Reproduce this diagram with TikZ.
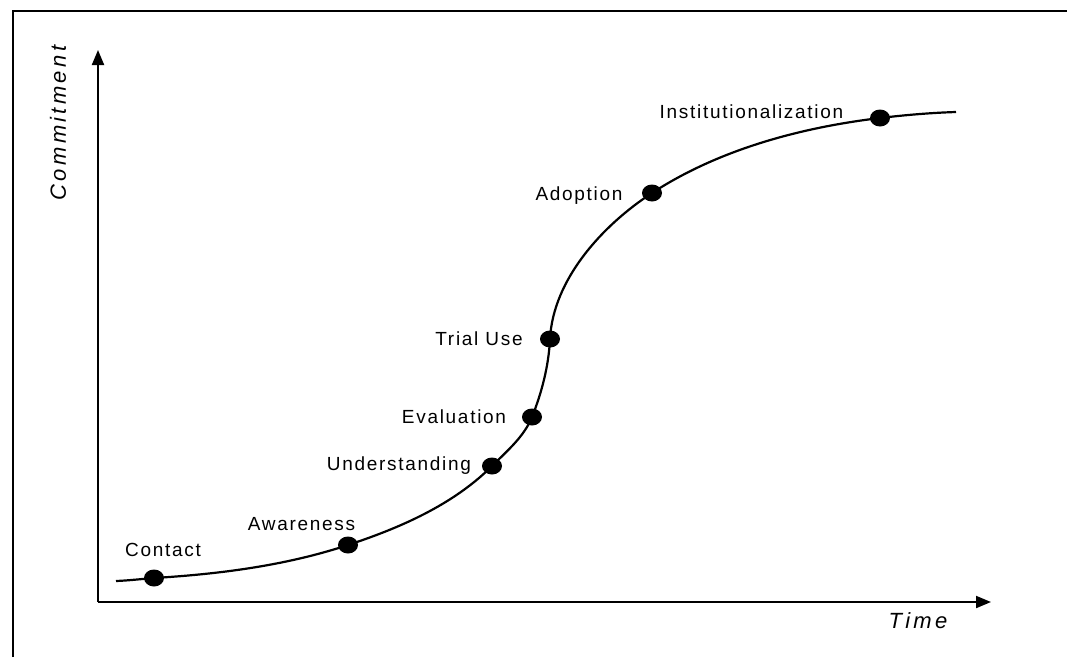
\documentclass[tikz,border=0pt]{standalone}
\usepackage{fontspec}
\setmainfont{Liberation Sans}
\newfontfamily\lblfont[LetterSpace=9]{Liberation Sans}
\newfontfamily\axfont[LetterSpace=15,ItalicFont=Liberation Sans Italic]{Liberation Sans}
\usetikzlibrary{arrows.meta,shapes.geometric}
\begin{document}
\begin{tikzpicture}[x=1pt,y=-1pt,
  axis/.style={line width=2pt,-{Triangle[length=15pt,width=12pt]}},
  frameline/.style={line width=1.5pt},
  curve/.style={line width=2.2pt},
  dot/.style={ellipse,fill=black,minimum width=20pt,minimum height=17pt,inner sep=0pt},
  lbl/.style={font=\lblfont\fontsize{19}{22}\selectfont,inner sep=0pt},
  axlbl/.style={font=\axfont\itshape\fontsize{22}{26}\selectfont,inner sep=0pt}]
\useasboundingbox (0,0) rectangle (1067,657);
% frame (cropped at right and bottom)
\draw[frameline] (13,657) -- (13,11) -- (1067,11);
% axes
\coordinate (o) at (98,602);
\coordinate (ytip) at (98,50);
\coordinate (xtip) at (991,602);
\draw[axis] (o) -- (ytip);
\draw[axis] (o) -- (xtip);
\node[axlbl,rotate=90] (commit) at (58,123) {Commitment};
\node[axlbl] (time) at (918,621) {Time};
% curve points
\coordinate (s) at (116,581);
\coordinate (p1) at (154,578);
\coordinate (p2) at (348,545);
\coordinate (p3) at (492,466);
\coordinate (p4) at (532,417);
\coordinate (p5) at (550,339);
\coordinate (p6) at (652,193);
\coordinate (p7) at (880,118);
\coordinate (e) at (956,112);
\draw[curve] (s) .. controls (129,580.5) and (141,579) .. (p1)
  .. controls (220,574) and (285.6,565.6) .. (p2)
  .. controls (400,527.9) and (453.3,504.7) .. (p3)
  .. controls (506.9,451.1) and (524.2,436.5) .. (p4)
  .. controls (541.9,392.2) and (548.7,365.7) .. (p5)
  .. controls (553,279.6) and (602.2,225.4) .. (p6)
  .. controls (719,149.4) and (800.6,127.5) .. (p7)
  .. controls (905.1,115) and (930.7,112.8) .. (e);
% dots
\foreach \p in {p1,p2,p3,p4,p5,p6,p7} \node[dot] (d\p) at (\p) {};
% labels
\node[lbl] (lcontact) at (163,550) {Contact};
\node[lbl] (laware) at (301.5,524) {Awareness};
\node[lbl] (lunder) at (399,466) {Understanding};
\node[lbl] (leval) at (454,417) {Evaluation};
\node[lbl] (ltrial) at (479,339) {Trial Use};
\node[lbl] (ladopt) at (579,196) {Adoption};
\node[lbl] (linst) at (751.5,112) {Institutionalization};
\end{tikzpicture}
\end{document}
